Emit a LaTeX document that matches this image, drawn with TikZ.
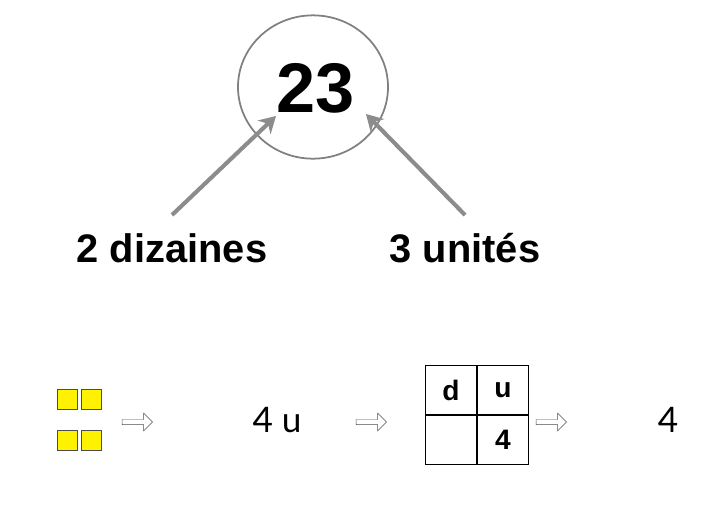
\documentclass[tikz,border=0pt]{standalone}
\usepackage{fontspec}
\setmainfont{Liberation Sans}
\newfontfamily\lightfont{Lato}
\usetikzlibrary{shapes.arrows,shapes.geometric,arrows.meta}
\tikzset{
  bigarrow/.style={draw=gray!90, line width=3.5pt, -{Stealth[length=14pt,width=16pt]}},
  unitsq/.style={draw=black!70, fill=yellow, minimum width=17pt, minimum height=17pt, inner sep=0pt},
  hollow/.style={single arrow, draw=black!70, thin, minimum width=15pt, single arrow head extend=3pt, minimum height=26pt, inner sep=1pt},
  cell/.style={draw, thick, minimum width=44pt, minimum height=42pt, font=\bfseries\fontsize{24}{26}\selectfont}
}
\begin{document}
\begin{tikzpicture}[x=0.03cm,y=-0.03cm]
  \useasboundingbox (0,0) rectangle (711,521);
  % number
  \node (c) [draw=gray, line width=1.5pt, ellipse, minimum width=4.5cm, minimum height=4.3cm] at (313,87) {};
  \node (n) at (316,88) {\bfseries\fontsize{60}{64}\selectfont 23};
  % parts
  \node (d) at (172,248) {\bfseries\fontsize{34}{38}\selectfont 2 dizaines};
  \node (u) at (465,248) {\bfseries\fontsize{34}{38}\selectfont 3 unités};
  \coordinate (ds) at (172,215);
  \coordinate (us) at (465,215);
  \coordinate (de) at (276,116);
  \coordinate (ue) at (366,114);
  \draw[bigarrow] (ds) -- (de);
  \draw[bigarrow] (us) -- (ue);
  % cubes
  \node (s1) [unitsq] at (67,399) {};
  \node (s2) [unitsq] at (91,399) {};
  \node (s3) [unitsq] at (67,440) {};
  \node (s4) [unitsq] at (91,440) {};
  \node (a1) [hollow] at (136,422) {};
  \node (t) at (277,420) {\lightfont\fontsize{30}{34}\selectfont 4 u};
  \node (a2) [hollow] at (370,422) {};
  % table
  \node (td) [cell] at (451,390) {d};
  \node (tu) [cell] at (503,390) {u};
  \node (tb) [cell] at (451,440) {};
  \node (tf) [cell] at (503,440) {4};
  \node (a3) [hollow] at (550,422) {};
  \node (r) at (668,420) {\lightfont\fontsize{30}{34}\selectfont 4};
\end{tikzpicture}
\end{document}
